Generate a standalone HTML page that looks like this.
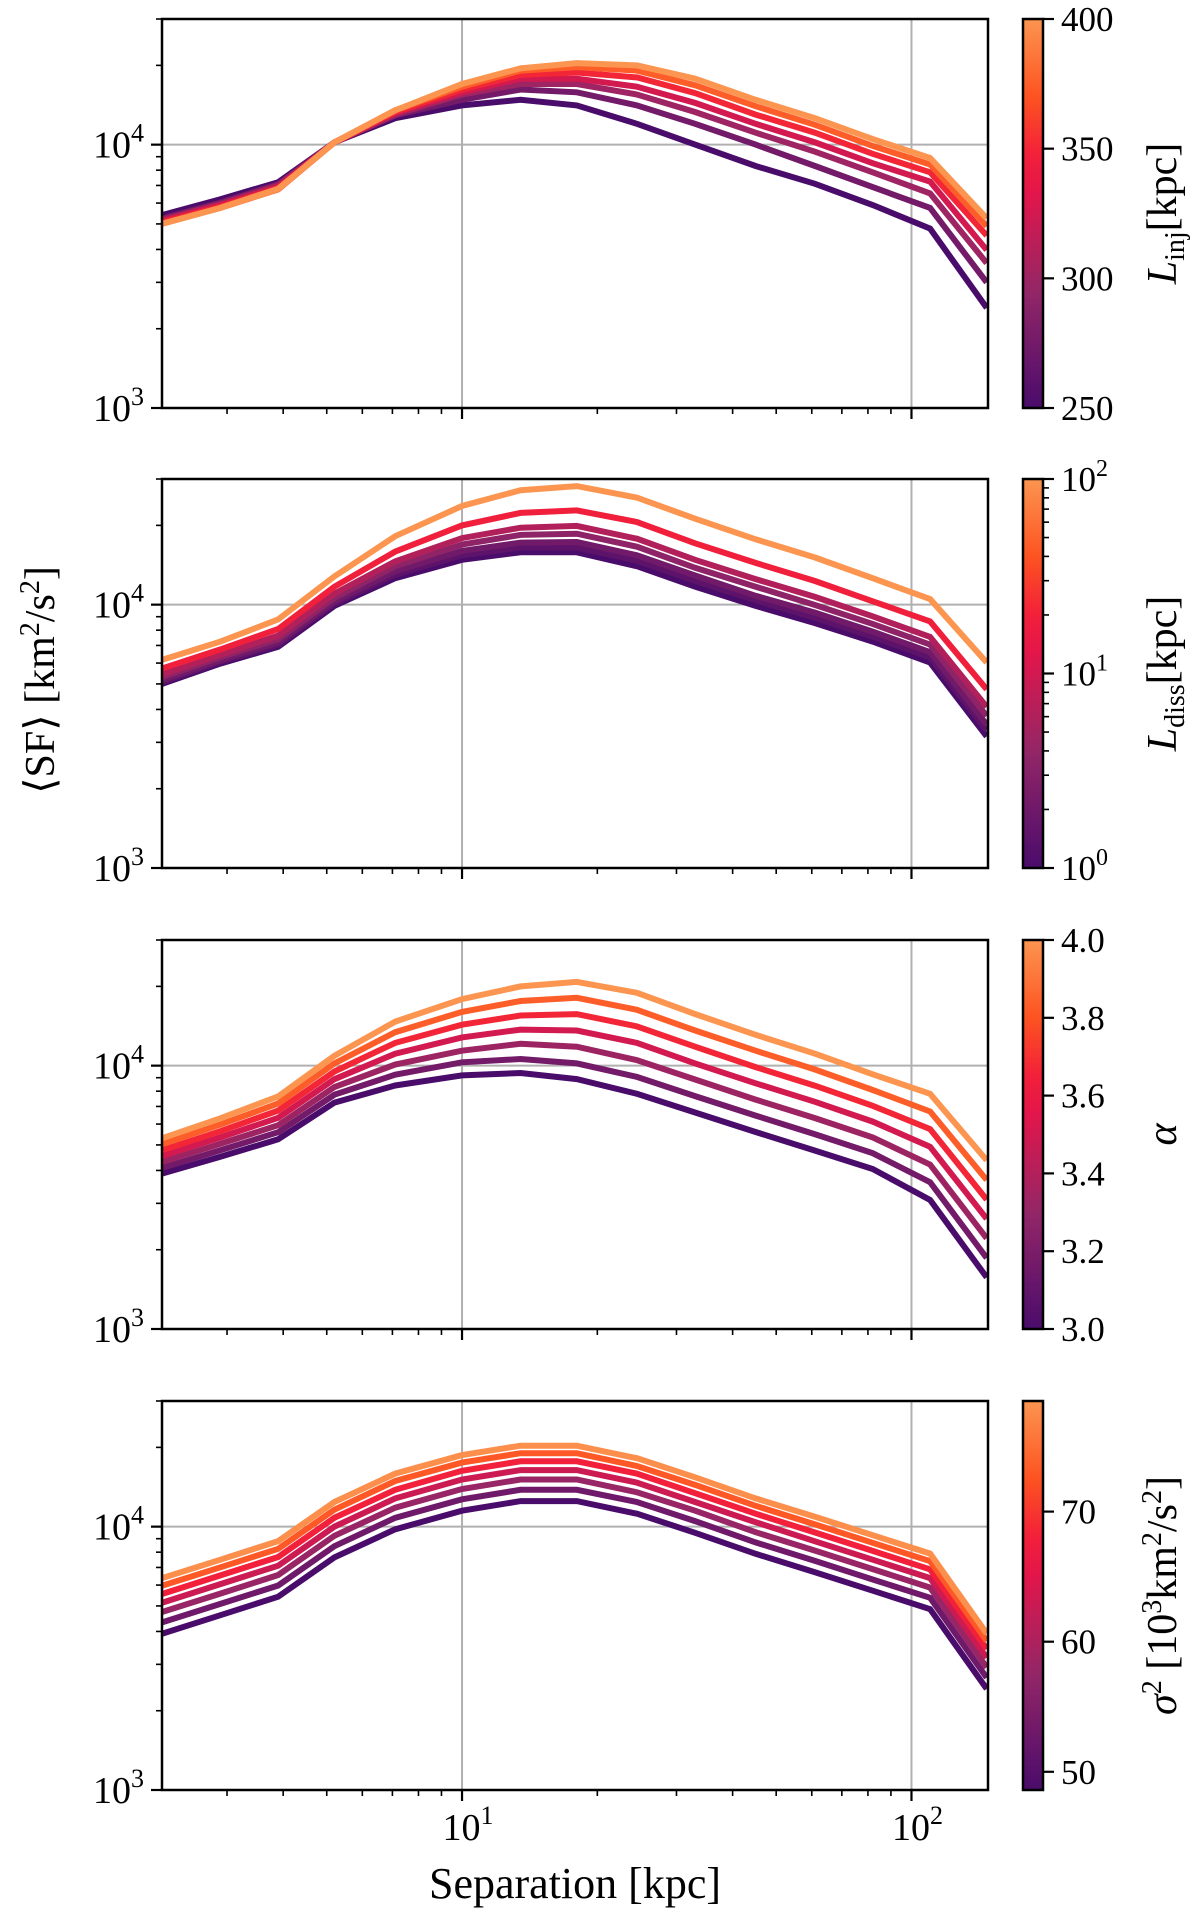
<!DOCTYPE html>
<html><head><meta charset="utf-8">
<style>
html,body{margin:0;padding:0;background:#fff;}
svg{display:block;font-family:"Liberation Serif",serif;}
</style></head>
<body>
<svg id="fig" width="1200" height="1925" viewBox="0 0 1200 1925" xmlns="http://www.w3.org/2000/svg">
<text transform="translate(54,680) rotate(-90)" text-anchor="middle" font-size="42">⟨SF⟩ [km<tspan baseline-shift="super" font-size="28">2</tspan>/s<tspan baseline-shift="super" font-size="28">2</tspan>]</text>
<text x="575" y="1898" text-anchor="middle" font-size="44">Separation [kpc]</text>
</svg>
<script>
const separations = [2.15,2.9,3.9,5.2,7.1,10,13.5,18,24.5,33,45,61,82,110,147];

const injParams = [250,275,300,325,350,375,400];
const injSeries = [
 [5400,6200,7200,10200,12600,14100,14800,14100,12000,10000,8300,7100,5900,4800,2400],
 [5250,6030,7080,10200,12900,14800,16200,15800,14100,12000,10000,8300,6900,5750,3000],
 [5190,5960,7000,10200,13000,15500,17000,17000,15500,13300,11100,9400,7850,6530,3550],
 [5130,5890,6920,10200,13200,15800,17800,17800,16600,14400,12000,10200,8500,7240,3980],
 [5070,5820,6840,10200,13300,16200,18400,18800,18000,15700,13000,11100,9230,7850,4520],
 [5010,5750,6760,10200,13500,16600,19100,19700,19100,16800,14000,11900,9890,8410,4900],
 [5000,5750,6800,10200,13500,17000,19500,20400,20000,17800,14800,12600,10500,8900,5250]
];

const dissParams = [1,1.45,2.1,3.6,6.3,19,100];
const dissSeries = [
 [5000,5970,6920,9890,12600,14800,15800,15800,14000,11700,9890,8510,7240,6030,3160],
 [5080,6070,7050,10100,13000,15400,16500,16500,14700,12300,10400,8910,7560,6300,3330],
 [5170,6150,7200,10300,13400,16000,17200,17300,15400,12900,10800,9330,7900,6600,3500],
 [5300,6310,7400,10600,14000,16900,18400,18600,16600,13800,11700,9970,8450,7050,3780],
 [5430,6450,7630,11000,14600,17900,19600,19900,17800,14800,12500,10700,9030,7540,4090],
 [5720,6760,8080,11700,15900,20000,22300,22800,20600,17100,14400,12300,10300,8640,4770],
 [6170,7240,8790,12800,18200,23700,27200,28200,25500,21200,17700,15100,12600,10500,6030]
];

const alphaParams = [3.0,3.167,3.333,3.5,3.667,3.833,4.0];
const alphaSeries = [
 [3890,4510,5250,7240,8410,9180,9380,8890,7820,6640,5600,4760,4050,3090,1570],
 [4090,4770,5590,7760,9240,10300,10600,10200,9060,7660,6460,5490,4650,3610,1860],
 [4310,5050,5940,8300,10100,11400,12100,11800,10500,8860,7430,6320,5340,4210,2210],
 [4540,5340,6340,8880,11100,12800,13700,13600,12200,10200,8570,7290,6130,4920,2620],
 [4770,5640,6750,9500,12200,14300,15500,15700,14100,11800,9870,8390,7040,5740,3100],
 [5030,5970,7180,10200,13400,16000,17600,18100,16300,13600,11400,9670,8080,6700,3680],
 [5300,6310,7640,10900,14700,17900,20000,20800,18900,15700,13100,11100,9270,7820,4370]
];

const sigmaParams = [48,53,58,63,68,73,78];
const sigmaSeries = [
 [3920,4610,5420,7640,9770,11500,12500,12500,11200,9480,7890,6710,5710,4860,2420],
 [4330,5090,5980,8430,10800,12700,13800,13800,12400,10500,8710,7410,6300,5370,2670],
 [4740,5570,6550,9230,11800,13900,15100,15100,13500,11500,9530,8110,6900,5870,2920],
 [5140,6050,7110,10000,12800,15100,16400,16400,14700,12400,10400,8800,7490,6380,3180],
 [5550,6530,7670,10800,13800,16300,17700,17700,15900,13400,11200,9500,8090,6880,3430],
 [5960,7010,8240,11600,14900,17500,19000,19000,17000,14400,12000,10200,8680,7390,3680],
 [6370,7490,8810,12400,15900,18700,20300,20300,18200,15400,12800,10900,9280,7900,3930]
];

const injTicks = [250,300,350,400];
const dissTicks = [1,10,100];
const alphaTicks = [3.0,3.2,3.4,3.6,3.8,4.0];
const sigmaTicks = [50,60,70];

const NS = "http://www.w3.org/2000/svg";
const svg = document.getElementById('fig');
const X0 = 162, X1 = 988, XMIN = 2.15, XMAX = 148;
const PH = 389, YMIN = 1000, YMAX = 30000;
const CB0 = 1023, CB1 = 1043;
const stops = [[0,[74,12,107]],[0.3,[147,38,103]],[0.55,[226,22,74]],[0.65,[242,32,58]],[0.8,[253,83,33]],[1,[252,149,80]]];
function cmap(t){
  t=Math.max(0,Math.min(1,t));
  for(let i=1;i<stops.length;i++){
    if(t<=stops[i][0]){
      const a=stops[i-1],b=stops[i],u=(t-a[0])/(b[0]-a[0]);
      const c=a[1].map((v,k)=>Math.round(v+(b[1][k]-v)*u));
      return `rgb(${c[0]},${c[1]},${c[2]})`;
    }
  }
  return 'rgb(252,149,80)';
}
function xs(v){return X0+(Math.log10(v)-Math.log10(XMIN))/(Math.log10(XMAX)-Math.log10(XMIN))*(X1-X0);}
function mk(tag,attrs,parent){
  const e=document.createElementNS(NS,tag);
  for(const k in attrs)e.setAttribute(k,attrs[k]);
  (parent||svg).appendChild(e);return e;
}
const panels = [
 {top:19, series:injSeries, params:injParams, pmin:250,pmax:400, log:false, ticks:injTicks, name:'injection-scale', label:'inj'},
 {top:479, series:dissSeries, params:dissParams, pmin:1,pmax:100, log:true, ticks:dissTicks, name:'dissipation-scale', label:'diss'},
 {top:940, series:alphaSeries, params:alphaParams, pmin:3,pmax:4, log:false, ticks:alphaTicks, name:'alpha', label:'alpha'},
 {top:1401, series:sigmaSeries, params:sigmaParams, pmin:48.6,pmax:78.5, log:false, ticks:sigmaTicks, name:'sigma', label:'sigma'}
];
panels.forEach((p,pi)=>{
  const top=p.top, bot=top+PH;
  const ys=v=>bot-(Math.log10(v)-Math.log10(YMIN))/(Math.log10(YMAX)-Math.log10(YMIN))*PH;
  const g=mk('g',{});
  
  
  [10,100].forEach(v=>{const l=mk('line',{x1:xs(v),x2:xs(v),y1:top,y2:bot,stroke:'#b0b0b0','stroke-width':2},g);
    
    });
  const gl=mk('line',{x1:X0,x2:X1,y1:ys(10000),y2:ys(10000),stroke:'#b0b0b0','stroke-width':2},g);
  
  
  const clip=mk('clipPath',{id:'clip'+pi},g);
  mk('rect',{x:X0,y:top,width:X1-X0,height:PH},clip);
  p.series.forEach((s,si)=>{
    const t=p.log?(Math.log10(p.params[si])-Math.log10(p.pmin))/(Math.log10(p.pmax)-Math.log10(p.pmin)):(p.params[si]-p.pmin)/(p.pmax-p.pmin);
    const d=s.map((v,i)=>(i?'L':'M')+xs(separations[i]).toFixed(1)+','+ys(v).toFixed(1)).join('');
    const path=mk('path',{d:d,fill:'none',stroke:cmap(t),'stroke-width':6,'stroke-linejoin':'miter','clip-path':`url(#clip${pi})`},g);
    
    
  });
  const fr=mk('rect',{x:X0,y:top,width:X1-X0,height:PH,fill:'none',stroke:'#000','stroke-width':2.5},g);
  
  
  for(let dec=1;dec<=100;dec*=10){for(let m=1;m<10;m++){const v=m*dec;if(v<XMIN||v>XMAX)continue;
    const maj=m===1;mk('line',{x1:xs(v),x2:xs(v),y1:bot,y2:bot+(maj?11:6),stroke:'#000','stroke-width':maj?2.2:1.6},g);}}
  for(let dec=1000;dec<=10000;dec*=10){for(let m=1;m<10;m++){const v=m*dec;if(v>YMAX)continue;
    const maj=m===1;mk('line',{x1:X0,x2:X0-(maj?11:6),y1:ys(v),y2:ys(v),stroke:'#000','stroke-width':maj?2.2:1.6},g);}}
  [[1000,'3'],[10000,'4']].forEach(([v,e])=>{
    const t=mk('text',{x:144,y:ys(v)+13,'text-anchor':'end','font-size':38},g);
    t.innerHTML=`10<tspan dy="-16" font-size="26">${e}</tspan>`;
    
    
  });
  if(pi===3){
    [[10,'1'],[100,'2']].forEach(([v,e])=>{
      const t=mk('text',{x:xs(v)+6,y:bot+50,'text-anchor':'middle','font-size':38},g);
      t.innerHTML=`10<tspan dy="-16" font-size="26">${e}</tspan>`;
      
      
    });
  }
  const cb=mk('g',{},g);
  
  
  const grad=mk('linearGradient',{id:'grad'+pi,x1:0,y1:1,x2:0,y2:0},cb);
  for(let i=0;i<=20;i++)mk('stop',{offset:i/20,'stop-color':cmap(i/20)},grad);
  mk('rect',{x:CB0,y:top,width:CB1-CB0,height:PH,fill:`url(#grad${pi})`,stroke:'#000','stroke-width':2.5},cb);
  const cy=v=>p.log?bot-(Math.log10(v)-Math.log10(p.pmin))/(Math.log10(p.pmax)-Math.log10(p.pmin))*PH:bot-(v-p.pmin)/(p.pmax-p.pmin)*PH;
  if(p.log){for(let dec=1;dec<100;dec*=10)for(let m=2;m<10;m++)mk('line',{x1:CB1,x2:CB1+6,y1:cy(m*dec),y2:cy(m*dec),stroke:'#000','stroke-width':1.6},cb);}
  p.ticks.forEach(v=>{
    mk('line',{x1:CB1,x2:CB1+11,y1:cy(v),y2:cy(v),stroke:'#000','stroke-width':2.2},cb);
    const t=mk('text',{x:CB1+18,y:cy(v)+12,'font-size':35},cb);
    if(p.log){t.innerHTML=`10<tspan dy="-15" font-size="24">${Math.round(Math.log10(v))}</tspan>`;}
    else t.textContent = p.label==='alpha'? v.toFixed(1) : String(v);
    
    
  });
  const lab=mk('text',{transform:`translate(1176,${top+PH/2}) rotate(-90)`,'text-anchor':'middle','font-size':42},cb);
  if(p.label==='inj') lab.innerHTML='<tspan font-style="italic">L</tspan><tspan font-size="28" dy="8">inj</tspan><tspan dy="-8">[kpc]</tspan>';
  else if(p.label==='diss') lab.innerHTML='<tspan font-style="italic">L</tspan><tspan font-size="28" dy="8">diss</tspan><tspan dy="-8">[kpc]</tspan>';
  else if(p.label==='alpha') lab.innerHTML='<tspan font-style="italic">α</tspan>';
  else lab.innerHTML='<tspan font-style="italic">σ</tspan><tspan font-size="28" dy="-15">2</tspan><tspan dy="15"> [10</tspan><tspan font-size="28" dy="-15">3</tspan><tspan dy="15">km</tspan><tspan font-size="28" dy="-15">2</tspan><tspan dy="15">/s</tspan><tspan font-size="28" dy="-15">2</tspan><tspan dy="15">]</tspan>';
  
  
});
</script>
</body></html>
